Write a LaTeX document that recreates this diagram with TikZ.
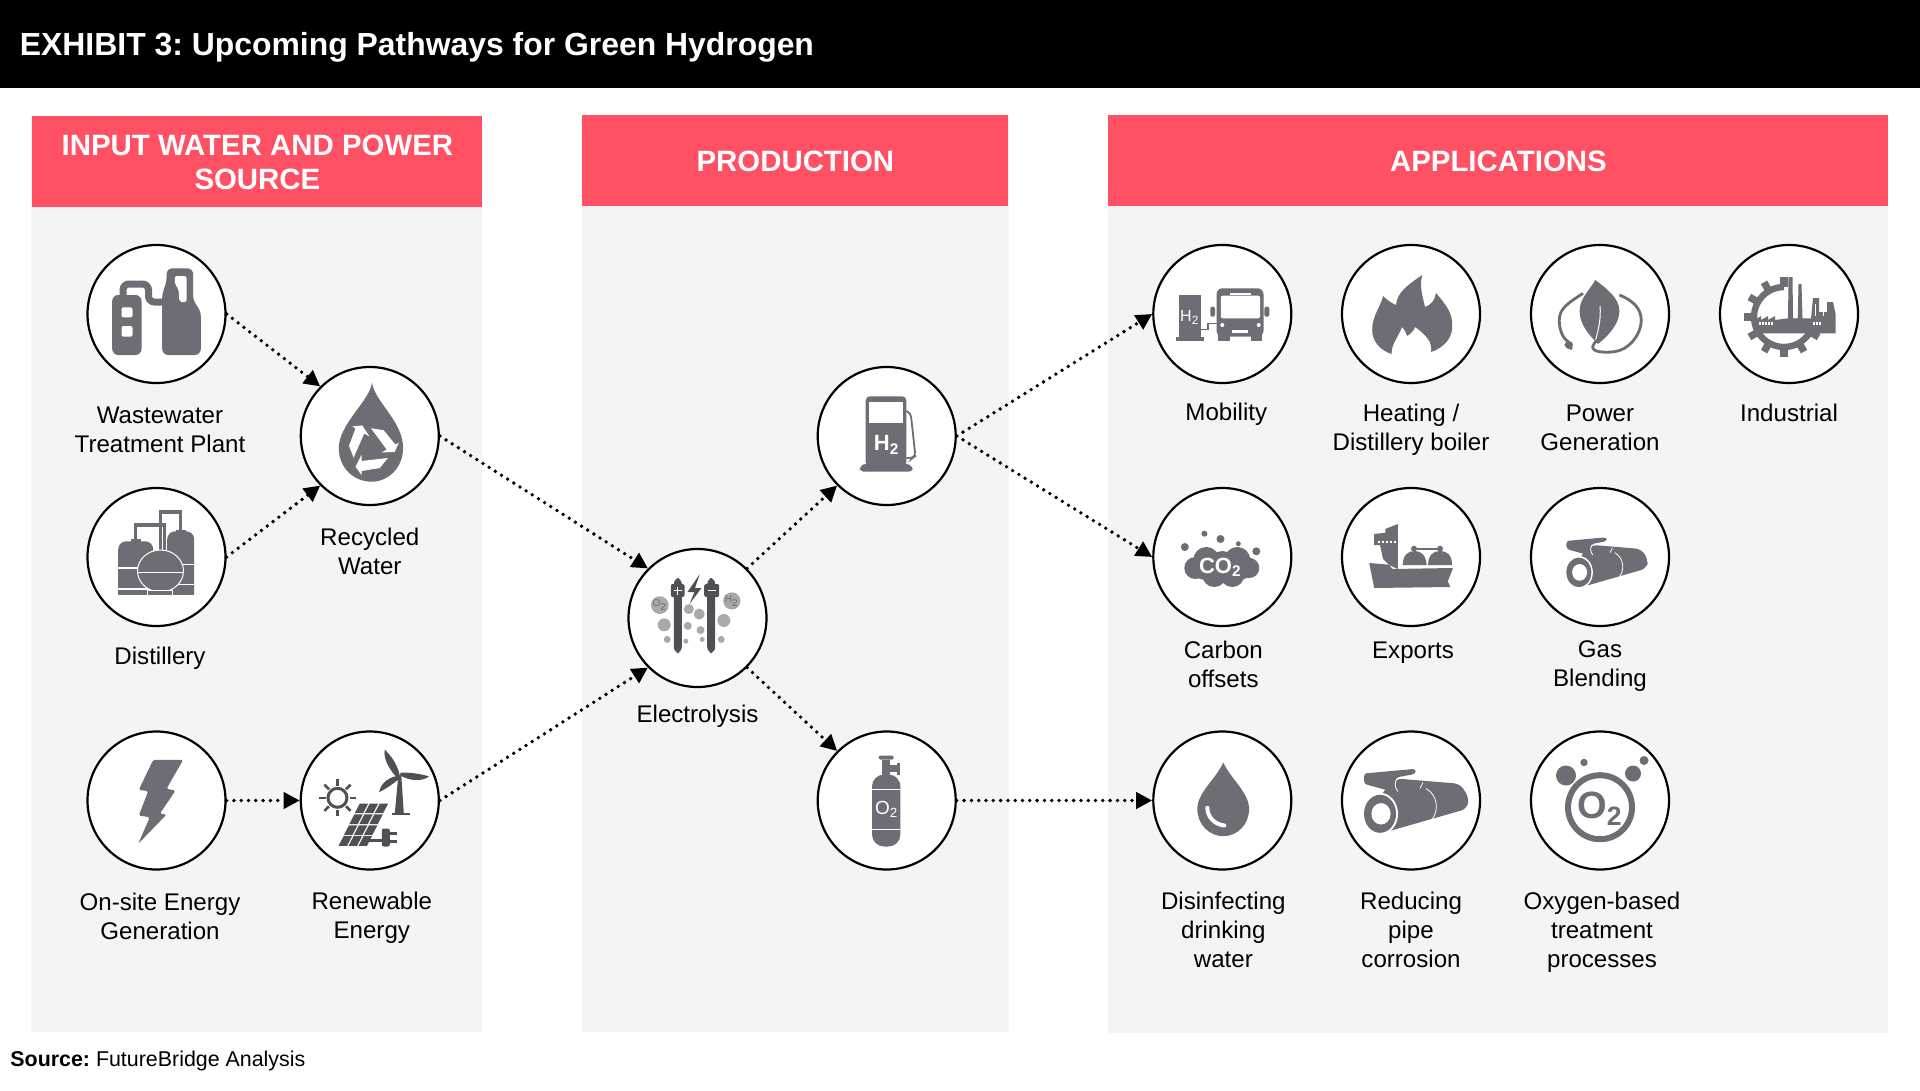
\documentclass[tikz,border=0pt]{standalone}
\usepackage{fontspec}
\setmainfont{Liberation Sans}
\frenchspacing
\usetikzlibrary{shapes.geometric, arrows.meta}
\definecolor{headRed}{HTML}{FF5064}
\definecolor{panelGrey}{HTML}{F4F4F4}
\definecolor{iconGrey}{HTML}{6D6E75}
\definecolor{iconDark}{HTML}{4F5056}
\definecolor{bubbleGrey}{HTML}{A9A9A9}
\tikzstyle{panel} = [rectangle, fill=panelGrey, anchor=north west, inner sep=0pt]
\tikzstyle{header} = [rectangle, fill=headRed, anchor=north west, inner sep=0pt, text=white, text centered, align=center, font=\fontsize{14.7}{17}\selectfont\bfseries]
\tikzstyle{hub} = [circle, draw=black, fill=white, line width=1.1pt, inner sep=0pt, minimum size=69pt]
\tikzstyle{caption} = [align=center, inner sep=0pt, font=\fontsize{12.05}{14.5}\selectfont]
\tikzstyle{arrow} = [line width=1.9pt, line cap=round, dash pattern=on 0pt off 3.65pt, -{Triangle[length=8pt, width=8pt]}]
\tikzstyle{solidIcon} = [fill=iconGrey, draw=none]
\tikzstyle{darkIcon} = [fill=iconDark, draw=none]
\tikzstyle{hole} = [fill=white, draw=none]
\tikzstyle{bubble} = [fill=bubbleGrey, draw=none]
\newcommand{\rollIcon}{
  \fill [solidIcon, rounded corners=1.5pt] (-47,-27) -- (4.6,-31.7) -- (4.6,-26.7) -- (-15,-23) -- (-17,-8.3) -- (-47,-16.7) -- cycle;
  \fill [solidIcon, rounded corners=3pt] (-15,-22) -- (49,-16.7) -- (58,-3) -- (56,8.3) -- (-25.7,31.7) -- (-31,-5) -- cycle;
  \draw [white, line width=.4pt] (-14,-22) .. controls (-17,-18) and (-16,-12) .. (-13,-9);
  \draw [white, line width=.4pt] (12,-18) -- (9,-12);
  \draw [white, line width=.4pt] (15,-12) .. controls (27,-5) and (28,10) .. (21,19);
  \fill [white] (-31,13.3) ellipse [x radius=18, y radius=21];
  \fill [solidIcon] (-31,13.3) ellipse [x radius=16, y radius=19];
  \fill [hole] (-30,13.3) ellipse [x radius=9.6, y radius=10.7];
}
\begin{document}
\begin{tikzpicture}[x=0.5pt, y=-0.5pt, node distance=57.5pt]
\useasboundingbox (0,0) rectangle (1920,1091);

\node (titleBar) [rectangle, fill=black, anchor=north west, inner sep=0pt, minimum width=960pt, minimum height=44pt] at (0,0) {};
\node (titleText) [anchor=west, inner sep=0pt, text=white, font=\fontsize{15.95}{20}\selectfont\bfseries] at (19.5,47.5) {EXHIBIT 3: Upcoming Pathways for Green Hydrogen};

\node (inputPanel) [panel, minimum width=225.5pt, minimum height=458pt] at (31,116) {};
\node (prodPanel) [panel, minimum width=213.5pt, minimum height=458.5pt] at (582,115) {};
\node (appPanel) [panel, minimum width=390pt, minimum height=459pt] at (1108,115) {};
\node (inputHead) [header, minimum width=225pt, minimum height=45.5pt] at (32,116) {INPUT WATER AND POWER\\SOURCE};
\node (prodHead) [header, minimum width=213pt, minimum height=45.5pt] at (582,115) {PRODUCTION};
\node (appHead) [header, minimum width=390pt, minimum height=45.5pt] at (1108,115) {APPLICATIONS};

\node (waste) [hub] at (156.5,314) {};
\node (distillery) [hub] at (156.5,557) {};
\node (onsite) [hub] at (156.5,800.5) {};
\node (recycled) [hub] at (369.8,436) {};
\node (renewable) [hub] at (369.8,800.5) {};
\node (electro) [hub] at (697.5,618) {};
\node (hydrogen) [hub] at (886.7,436) {};
\node (oxygen) [hub] at (886.7,800.5) {};
\node (mobility) [hub] at (1222.3,314) {};
\node (heating) [hub] at (1411,314) {};
\node (power) [hub] at (1600,314) {};
\node (industrial) [hub] at (1789,314) {};
\node (carbon) [hub] at (1222.3,557) {};
\node (exports) [hub] at (1411,557) {};
\node (blending) [hub] at (1600,557) {};
\node (disinfect) [hub] at (1222.3,800.5) {};
\node (corrosion) [hub] at (1411,800.5) {};
\node (treatment) [hub] at (1600,800.5) {};

\node (wasteLabel) [caption, below of=waste, xshift=1.75pt, yshift=-.5pt] {Wastewater\\Treatment Plant};
\node (distilleryLabel) [caption, below of=distillery, xshift=1.75pt, yshift=6.8pt] {Distillery};
\node (onsiteLabel) [caption, below of=onsite, xshift=1.75pt, yshift=-.6pt] {On-site Energy\\Generation};
\node (recycledLabel) [caption, below of=recycled] {Recycled\\Water};
\node (renewableLabel) [caption, below of=renewable, xshift=1pt, yshift=-1.2pt] {Renewable\\Energy};
\node (electroLabel) [caption, below of=electro, yshift=8.3pt] {Electrolysis};
\node (mobilityLabel) [caption, below of=mobility, xshift=2pt, yshift=7.4pt] {Mobility};
\node (heatingLabel) [caption, below of=heating, yshift=-.3pt] {Heating /\\Distillery boiler};
\node (powerLabel) [caption, below of=power, yshift=.6pt] {Power\\Generation};
\node (industrialLabel) [caption, below of=industrial, yshift=8pt] {Industrial};
\node (carbonLabel) [caption, below of=carbon, xshift=.5pt, yshift=4pt] {Carbon\\offsets};
\node (exportsLabel) [caption, below of=exports, xshift=1pt, yshift=9.8pt] {Exports};
\node (blendingLabel) [caption, below of=blending, yshift=2.8pt] {Gas\\Blending};
\node (disinfectLabel) [caption, below of=disinfect, xshift=.5pt, yshift=-7pt] {Disinfecting\\drinking\\water};
\node (corrosionLabel) [caption, below of=corrosion, yshift=-7pt] {Reducing\\pipe\\corrosion};
\node (treatmentLabel) [caption, below of=treatment, xshift=1pt, yshift=-8.5pt] {Oxygen-based\\treatment\\processes};
\node (sourceText) [anchor=west, inner sep=0pt, font=\fontsize{10.7}{13}\selectfont] at (10,1060.5) {\textbf{Source:} FutureBridge Analysis};

\draw [arrow] (waste.east) -- (recycled.135);
\draw [arrow] (distillery.east) -- (recycled.225);
\draw [arrow] (onsite.east) -- (renewable.west);
\draw [arrow] (recycled.east) -- (electro.135);
\draw [arrow] (renewable.east) -- (electro.225);
\draw [arrow] (electro.45) -- (hydrogen.225);
\draw [arrow] (electro.-45) -- (oxygen.135);
\draw [arrow] (hydrogen.east) -- (mobility.west);
\draw [arrow] (hydrogen.east) -- (carbon.west);
\draw [arrow] (oxygen.east) -- (disinfect.west);

\begin{scope}[shift={(waste)}]
  \draw [iconGrey, line width=3.5pt, rounded corners=3pt] (-33.5,-15) -- (-33.5,-30) -- (-8,-30) -- (-8,-12) -- (10,-12);
  \fill [solidIcon, rounded corners=3pt] (-44.3,-19) -- (-15,-19) -- (-15,41) -- (-44.3,41) -- cycle;
  \fill [solidIcon, rounded corners=3pt] (5.7,41) -- (5.7,-22) -- (10,-30) -- (10,-45.7) -- (36.7,-45.7) -- (36.7,-12) -- (44.3,-4) -- (44.3,41) -- cycle;
  \fill [hole, rounded corners=1pt] (-35,-6.7) rectangle (-24,3.3);
  \fill [hole, rounded corners=1pt] (-35,12) rectangle (-24,22.7);
  \fill [hole, rounded corners=1pt] (18.3,-38) -- (30,-38) -- (30,-12) -- (23,-12) -- (22,-25) -- (18.3,-30) -- cycle;
\end{scope}

\begin{scope}[shift={(distillery)}]
  \draw [iconGrey, line width=1.8pt] (-21,-14) -- (-21,-32) -- (8,-32) -- (8,0);
  \draw [iconGrey, line width=1.8pt] (4,-5) -- (4,-45) -- (24,-45) -- (24,-24);
  \fill [solidIcon, rounded corners=4pt] (-38.3,-15.7) -- (-3.3,-15.7) -- (-3.3,45) -- (-38.3,45) -- cycle;
  \fill [solidIcon, rounded corners=4pt] (10.7,-25.7) -- (37.7,-25.7) -- (37.7,45) -- (10.7,45) -- cycle;
  \fill [white] (-40,38) rectangle (40,46);
  \fill [solidIcon] (-26,-18.5) rectangle (-16,-15);
  \fill [solidIcon] (19,-27.5) rectangle (29,-24);
  \draw [white, line width=.6pt] (-38.3,11) -- (-3.3,11);
  \draw [white, line width=.6pt] (-38.3,32) -- (-3.3,32);
  \draw [white, line width=.6pt] (10.7,7.7) -- (37.7,7.7);
  \draw [white, line width=.6pt] (10.7,27.7) -- (37.7,27.7);
  \fill [solidIcon, draw=white, line width=.5pt] (4,14) ellipse [x radius=23, y radius=21];
  \draw [white, line width=.5pt] (-19,15) -- (27,15);
  \fill [solidIcon, draw=white, line width=.5pt] (-9,33) rectangle (16,38);
\end{scope}

\begin{scope}[shift={(onsite)}]
  \fill [solidIcon, rounded corners=.8pt] (-3.3,-40.7) -- (26.7,-40.7) -- (10,-11.7) -- (19,-10) -- (3.3,13.3) -- (10,14) -- (-18.3,43.3) -- (-6.7,16.7) -- (-17.7,15) -- (-8.3,-9.3) -- (-17.7,-10.7) -- cycle;
\end{scope}

\begin{scope}[shift={(recycled)}]
  \fill [solidIcon] (2.3,-53.7) .. controls (4,-35) and (33.3,-15) .. (33.3,12) .. controls (33.3,32) and (18,45.7) .. (2,45.7) .. controls (-16,45.7) and (-31,32) .. (-31,12) .. controls (-31,-12) and (0,-35) .. cycle;
  \foreach \ang in {0,120,240} {
    \begin{scope}[shift={(1,12)}, rotate=\ang]
      \fill [white] (-15.3,18.7) -- (-9.3,7) -- (-9.3,13) -- (17,10) -- (9,20) -- (-9.3,23) -- (-9.3,27) -- cycle;
    \end{scope}
  }
\end{scope}

\begin{scope}[shift={(renewable)}]
  \draw [iconDark, line width=1.5pt] (-32.3,-2.7) circle [radius=9.5];
  \foreach \ang in {0,45,...,315} {
    \begin{scope}[shift={(-32.3,-2.7)}]
      \draw [iconDark, line width=1.3pt] (\ang:12) -- (\ang:18.5);
    \end{scope}
  }
  \fill [iconDark] (28.5,-25) -- (31.5,-25) -- (34,13) -- (25,13) -- cycle;
  \fill [iconDark] (21.7,12) rectangle (40,14.5);
  \fill [iconDark] (30,-25) .. controls (27,-38) and (20,-46) .. (15,-50.7) .. controls (13,-42) and (20,-30) .. (28,-22) -- cycle;
  \fill [iconDark] (30,-25) .. controls (42,-19) and (52,-19) .. (59.3,-24) .. controls (50,-27) and (40,-28) .. (31,-28) -- cycle;
  \fill [iconDark] (30,-25) .. controls (20,-24) and (11,-18) .. (9.3,-8.3) .. controls (17,-12) and (25,-18) .. (31,-23) -- cycle;
  \foreach \i in {0,1,2} {
    \foreach \j in {0,1,2,3} {
      \fill [darkIcon] ({-31.7+10*\i+5.4*\j+.4},{46-10.9*\j-.6}) -- ({-31.7+10*\i+5.4*\j+8.8},{46-10.9*\j-.6}) -- ({-31.7+10*\i+5.4*(\j+1)+8.5},{46-10.9*(\j+1)+.6}) -- ({-31.7+10*\i+5.4*(\j+1)+.1},{46-10.9*(\j+1)+.6}) -- cycle;
    }
  }
  \draw [iconDark, line width=1.2pt] (-2,40) -- (16,40);
  \fill [iconDark, rounded corners=1pt] (12,28) -- (20,28) -- (20,46) -- (12,46) -- cycle;
  \draw [iconDark, line width=1.2pt] (20,33) -- (27.5,33);
  \draw [iconDark, line width=1.2pt] (20,41) -- (27.5,41);
\end{scope}

\begin{scope}[shift={(electro)}]
  \foreach \bx/\by/\br in {-8.7/-8.9/5, 1.7/-3.9/5.5, -33.3/6.8/6.5, 26.3/2.5/6.5, -9.7/7.9/4, 3/12.1/4, -30.3/21.4/3.5, 23.7/21.4/3.5, -11.7/23.2/2.5, 4.7/21.4/2.5}
    \fill [bubble] (\bx,\by) circle [radius=\br];
  \node (oxygenBubble) [circle, bubble, inner sep=0pt, minimum size=8pt, text=iconGrey, font=\fontsize{5}{5}\selectfont] at (-37.7,-12.9) {O\textsubscript{2}};
  \node (hydrogenBubble) [circle, bubble, inner sep=0pt, minimum size=8pt, text=iconGrey, font=\fontsize{5}{5}\selectfont] at (34.3,-17.1) {H\textsubscript{2}};
  \fill [darkIcon, rounded corners=3pt] (-23.7,-40) rectangle (-15.7,35);
  \fill [darkIcon, rounded corners=3pt] (9.7,-40) rectangle (17.7,35);
  \fill [darkIcon, rounded corners=1pt] (-26.7,-34) rectangle (-13,-21);
  \fill [darkIcon, rounded corners=1pt] (6.7,-34) rectangle (21.7,-21);
  \draw [white, line width=.8pt] (-24,-27.5) -- (-16,-27.5);
  \draw [white, line width=.8pt] (-20,-31.5) -- (-20,-23.5);
  \draw [white, line width=.8pt] (10,-27.5) -- (18,-27.5);
  \fill [darkIcon] (2.3,-44) -- (-10,-26) -- (-3,-26) -- (-8,-14) -- (4,-30) -- (-2.5,-30) -- cycle;
\end{scope}

\begin{scope}[shift={(hydrogen)}]
  \fill [solidIcon, rounded corners=2pt] (-21,-39.6) -- (19.7,-39.6) -- (19.7,30) -- (-21,30) -- cycle;
  \fill [solidIcon, rounded corners=2pt] (-27,35.7) -- (-27,30) -- (-21,27.5) -- (19.7,27.5) -- (26,30) -- (26,35.7) -- cycle;
  \fill [hole] (-17.3,-34.3) rectangle (16.3,-12.9);
  \draw [iconGrey, line width=.9pt, rounded corners=2pt] (19.7,-25) -- (24,-23) -- (28.7,20) -- (26,22) -- (19.7,22);
  \node (hydrogenText) [inner sep=0pt, text=white, font=\fontsize{11}{11}\selectfont\bfseries] at (0,9) {H\textsubscript{2}};
\end{scope}

\begin{scope}[shift={(oxygen)}]
  \fill [solidIcon, rounded corners=6pt] (-14.7,-26) -- (13.7,-26) -- (13.7,46) -- (-14.7,46) -- cycle;
  \fill [solidIcon] (-4.7,-41) rectangle (3.7,-22);
  \fill [solidIcon, rounded corners=1pt] (-8,-45) rectangle (7,-41);
  \fill [solidIcon] (3.7,-35.7) rectangle (12.7,-29);
  \fill [solidIcon] (10,-38) rectangle (13,-26);
  \draw [white, line width=.5pt] (-14.7,-10.7) -- (13.7,-10.7);
  \draw [white, line width=.5pt] (-14.7,29.3) -- (13.7,29.3);
  \node (oxygenText) [inner sep=0pt, text=white, font=\fontsize{9.5}{10}\selectfont] at (0,9) {O\textsubscript{2}};
\end{scope}

\begin{scope}[shift={(mobility)}]
  \fill [solidIcon] (-43.6,-19) rectangle (-21.3,23);
  \fill [solidIcon] (-46,22.7) rectangle (-18.4,26.7);
  \node (mobilityText) [inner sep=0pt, text=white, font=\fontsize{8}{8}\selectfont] at (-32.5,3.3) {H\textsubscript{2}};
  \draw [iconGrey, line width=.7pt] (-21.3,15.3) -- (-14.5,15.3) -- (-14.5,9.3) -- (-5.8,9.3);
  \fill [solidIcon, rounded corners=3pt] (-5.8,-25.7) rectangle (41.2,22.7);
  \fill [hole, rounded corners=1pt] (-1.5,-18.3) rectangle (37.8,4.3);
  \fill [hole] (7.3,-21) rectangle (29,-19);
  \fill [hole] (9.7,16) rectangle (25.7,18.7);
  \fill [solidIcon] (-3.9,20) rectangle (7.3,26.7);
  \fill [solidIcon] (29,20) rectangle (39.7,26.7);
  \fill [hole] (0,11) circle [radius=2];
  \fill [hole] (36.4,11) circle [radius=2];
  \fill [solidIcon, rounded corners=1pt] (-12,-7.3) rectangle (-7.3,2.7);
  \fill [solidIcon, rounded corners=1pt] (42,-7.3) rectangle (47,2.7);
\end{scope}

\begin{scope}[shift={(heating)}]
  \fill [solidIcon] (11.2,-39) .. controls (8,-28) and (12,-16) .. (14,-7) .. controls (20,-9) and (24,-14) .. (25,-21) .. controls (36,-8) and (42,0) .. (41.2,13) .. controls (41,25) and (32,34) .. (20,38) .. controls (22,28) and (14,20) .. (4,13) .. controls (3,17) and (-1,20) .. (-4,22) .. controls (-5,18) and (-7,15) .. (-9,13) .. controls (-11,20) and (-20,30) .. (-19.4,40) .. controls (-32,36) and (-39,26) .. (-38.8,16) .. controls (-39,2) and (-30,-8) .. (-28,-18) .. controls (-24,-14) and (-18,-10) .. (-15,-9) .. controls (-14,-22) and (-2,-30) .. cycle;
\end{scope}

\begin{scope}[shift={(power)}]
  \fill [solidIcon] (-4.8,-34) .. controls (6,-26) and (19.4,-16) .. (19.4,-3) .. controls (19.4,10) and (8,22) .. (-2,30) .. controls (-12,20) and (-20.4,10) .. (-20.4,-3) .. controls (-20.4,-16) and (-10,-24) .. cycle;
  \draw [white, line width=.5pt] (0,-8) .. controls (1,4) and (-1,14) .. (-5,28);
  \draw [iconGrey, line width=1.4pt] (-17,-20.7) .. controls (-30,-12) and (-41,-6) .. (-40.7,6) .. controls (-41,14) and (-38,24) .. (-31.5,28);
  \draw [iconGrey, line width=1.4pt] (19.4,-19) .. controls (32,-14) and (41.2,-6) .. (41.2,6) .. controls (41,22) and (28,36) .. (14.5,37.7) .. controls (4,39) and (-8,38) .. (-7.3,32.7) .. controls (-7,30) and (-5,29) .. (-3,26);
  \draw [iconGrey, line width=1.4pt] (-35,30) -- (-28,35);
  \fill [solidIcon] (-31,31) circle [radius=4];
\end{scope}

\begin{scope}[shift={(industrial)}]
  \begin{scope}[shift={(-5,3)}]
    \draw [iconGrey, line width=3.2pt] plot [domain=20:270, samples=40] ({30*cos(\x)},{30*sin(\x)});
    \foreach \ang in {30,60,...,270}
      \draw [iconGrey, line width=3.6pt] (\ang:30) -- (\ang:40);
  \end{scope}
  \fill [solidIcon] (-34,19.3) -- (-34,6) -- (-28,2) -- (-28,6) -- (-21,2) -- (-21,6) -- (-14,2) -- (-14,6) -- (-1,4.3) -- (-.5,-37) -- (3.5,-37) -- (4,4.3) -- (8.7,4.3) -- (9.5,-30) -- (12.5,-30) -- (13.5,4.3) -- (22,4.3) -- (24,-16) -- (30,-16) -- (30,-2) -- (38,-2) -- (38,-12) -- (44,-12) -- (46.5,0) -- (46.5,19.3) -- cycle;
  \foreach \wx in {-30,-27,-24,-21,-18}
    \fill [hole] (\wx,8) rectangle ++(1.6,3);
  \foreach \wx in {24,27,30}
    \fill [hole] (\wx,8) rectangle ++(1.6,3);
  \draw [white, line width=.4pt] (26,-10) -- (26,2);
  \draw [white, line width=.4pt] (34,-2) -- (34,2);
\end{scope}

\begin{scope}[shift={(carbon)}]
  \fill [solidIcon] (0,10) ellipse [x radius=36, y radius=15];
  \foreach \cx/\cy/\cr in {-16/3/13, 0/4/10, 15/3/13, 27/11/10, -27/11/11, -8/18/12, 10/18/12}
    \fill [solidIcon] (\cx,\cy) circle [radius=\cr];
  \foreach \cx/\cy/\cr in {-37.5/-10/4, -17.9/-23.3/3, -1.8/-18/4, 16/-13.3/2.5, 34/-5.7/4}
    \fill [solidIcon] (\cx,\cy) circle [radius=\cr];
  \node (carbonText) [inner sep=0pt, text=white, font=\fontsize{11}{11}\selectfont\bfseries] at (-2,10) {CO\textsubscript{2}};
\end{scope}

\begin{scope}[shift={(exports)}]
  \fill [solidIcon] (-37,-23) -- (-25.7,-24.3) -- (-25.7,-28) -- (-13.2,-33) -- (-13.2,12) -- (-22,8) -- (-28,2) -- (-31,-12) -- (-37,-12) -- cycle;
  \foreach \wx in {-33,-29,-25,-21,-17}
    \fill [hole] (\wx,-16.5) rectangle ++(2.4,2.4);
  \fill [solidIcon] (-41.8,6) -- (-22,7.7) -- (-18.6,12) -- (42,11) -- (36.8,24.3) -- (39.3,30) -- (-36.8,31) -- cycle;
  \fill [solidIcon] (-8.4,8) .. controls (-8,-2) and (-3,-6) .. (3.6,-6) .. controls (10,-6) and (15,-2) .. (15.6,8) -- cycle;
  \fill [solidIcon] (17,8) .. controls (17.4,-2) and (22,-6) .. (29,-6) .. controls (36,-6) and (41,-2) .. (41,8) -- cycle;
  \draw [iconGrey, line width=1.1pt, line cap=round] (1,-8.3) -- (29,-8.3);
  \fill [solidIcon] (3,-8.3) circle [radius=3];
  \fill [solidIcon] (29,-8.3) circle [radius=3];
\end{scope}

\begin{scope}[shift={(blending)}, xshift=1.5pt, yshift=-2.5pt, scale=.78]
  \rollIcon
\end{scope}

\begin{scope}[shift={(disinfect)}]
  \fill [solidIcon] (1,-38) .. controls (8,-22) and (26.8,-8) .. (26.8,8.3) .. controls (26.8,24) and (15,35.7) .. (1,35.7) .. controls (-13,35.7) and (-25,24) .. (-25,8.3) .. controls (-25,-8) and (-6,-22) .. cycle;
  \draw [white, line width=2pt, line cap=round] (-15,7.3) .. controls (-15,16) and (-8,24) .. (2,25);
\end{scope}

\begin{scope}[shift={(corrosion)}]
  \rollIcon
\end{scope}

\begin{scope}[shift={(treatment)}]
  \draw [iconGrey, line width=3pt] (0,6.7) circle [radius=32];
  \node (treatmentText) [inner sep=0pt, text=iconGrey, font=\fontsize{19}{19}\selectfont\bfseries] at (0,8) {O\textsubscript{2}};
  \foreach \cx/\cy/\cr in {-34/-25/10, 33/-27/8, -16/-38/3.7, 44/-40/4.5}
    \fill [solidIcon] (\cx,\cy) circle [radius=\cr];
\end{scope}

\end{tikzpicture}
\end{document}
